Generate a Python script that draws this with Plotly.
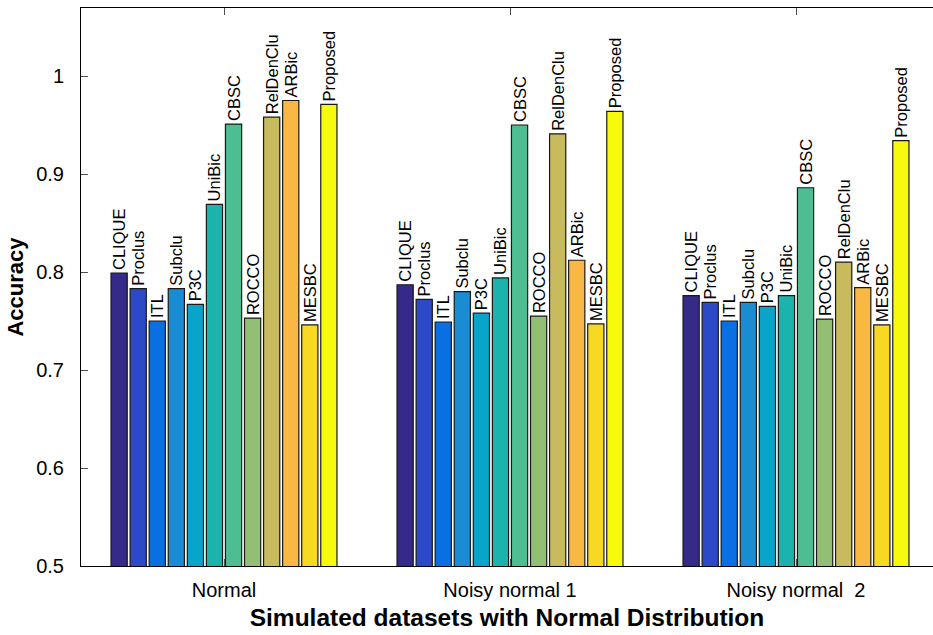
import plotly.graph_objects as go

datasets = ["Normal", "Noisy normal 1", "Noisy normal \u00a02"]
methods = ["CLIQUE", "Proclus", "ITL", "Subclu", "P3C", "UniBic", "CBSC",
           "ROCCO", "RelDenClu", "ARBic", "MESBC", "Proposed"]
acc_normal = [0.799, 0.783, 0.750, 0.783, 0.767, 0.869, 0.951, 0.753, 0.958, 0.975, 0.746, 0.971]
acc_noisy1 = [0.787, 0.772, 0.749, 0.780, 0.758, 0.794, 0.950, 0.755, 0.941, 0.812, 0.747, 0.964]
acc_noisy2 = [0.776, 0.769, 0.750, 0.769, 0.765, 0.776, 0.886, 0.752, 0.810, 0.784, 0.746, 0.934]
colors = ["#352a87", "#2c4ac8", "#0a6fe0", "#1a8cd4", "#08a4ca", "#1cb3ad",
          "#4dbe92", "#92bf73", "#c8bb5e", "#f8b843", "#f7d823", "#f8fa0d"]
yticks = [0.5, 0.6, 0.7, 0.8, 0.9, 1.0]
yticklabels = ["0.5", "0.6", "0.7", "0.8", "0.9", "1"]

FONT = "Liberation Sans, Arial, Helvetica, sans-serif"
xpos = [1, 2, 3]

fig = go.Figure()
for i, m in enumerate(methods):
    vals = [acc_normal[i], acc_noisy1[i], acc_noisy2[i]]
    fig.add_trace(go.Bar(
        x=xpos, y=vals, name=m,
        marker=dict(color=colors[i], line=dict(color="rgb(25,25,25)", width=1.2)),
        text=[m] * 3, textposition="outside", textangle=-90,
        constraintext="none", cliponaxis=False,
        textfont=dict(family=FONT, size=16.5, color="black"),
        hoverinfo="x+y+name",
    ))

fig.update_layout(
    width=933, height=635,
    margin=dict(l=81, r=0, t=8, b=69),
    paper_bgcolor="white", plot_bgcolor="white",
    barmode="group", bargap=0.2, bargroupgap=0.15,
    showlegend=False,
    font=dict(family=FONT, color="black"),
    xaxis=dict(
        range=[0.5, 3.479], tickvals=xpos, ticktext=datasets,
        showline=True, linecolor="black", linewidth=1, mirror="ticks",
        ticks="inside", ticklen=7, tickcolor="rgb(80,80,80)",
        showgrid=False, zeroline=False, ticklabelstandoff=6,
        tickfont=dict(family=FONT, size=20, color="black"),
        title=dict(text="<b>Simulated datasets with Normal Distribution</b>",
                   font=dict(family=FONT, size=24.5, color="black"), standoff=8),
    ),
    yaxis=dict(
        range=[0.5, 1.0694], tickvals=yticks, ticktext=yticklabels,
        showline=True, linecolor="black", linewidth=1, mirror=False,
        ticks="inside", ticklen=7, tickcolor="rgb(80,80,80)",
        showgrid=False, zeroline=False, ticklabelstandoff=12,
        tickfont=dict(family=FONT, size=20, color="black"),
        title=dict(text="<b>Accuracy</b>",
                   font=dict(family=FONT, size=22, color="black"), standoff=6),
    ),
)

fig.write_html("out.html")
